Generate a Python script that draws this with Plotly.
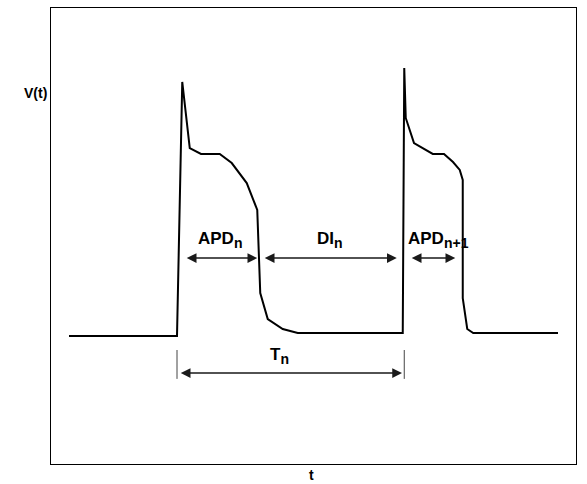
import plotly.graph_objects as go

# Membrane potential trace: two consecutive action potentials (t in ms, V in mV)
t_ms = [24, 168, 175, 185, 200, 225, 241, 261, 275, 279, 289, 309, 329,
        469, 471, 473, 484, 509, 524, 536, 545, 549, 549, 555, 563, 676]
v_mv = [-89.5, -89.5, 10.8, -15.3, -17.6, -17.6, -21.2, -29.1, -39.7, -72.5, -82.8, -86.7, -88.3,
        -88.3, 16.3, -3.4, -13.3, -17.6, -17.6, -20.8, -23.9, -27.9, -74.5, -86.7, -88.3, -88.3]

# Interval markers: (label, start, end, level)
interval_names = ["APD", "DI", "APD"]
interval_subs = ["n", "n", "n+1"]
interval_start = [179, 283, 479]
interval_end = [275, 461, 539]
interval_label_x = [225, 372, 516]
interval_level = -58.7
interval_label_level = -51.4

period_name = "T"
period_sub = "n"
period_start = 168
period_end = 471
period_level = -104.1
period_label_x = 304
period_label_level = -97.4
period_tick_low = -106.4
period_tick_high = -95.0

FONT = dict(family="Liberation Sans, Arial, sans-serif", size=17, color="black")
AXIS_FONT = dict(family="Liberation Sans, Arial, sans-serif", size=14, color="black")
SUB_PX = 14
ARROW_COLOR = "#1a1a1a"


def label(name, sub):
    return "<b>%s<sub><span style='font-size:%dpx'>%s</span></sub></b>" % (name, SUB_PX, sub)


fig = go.Figure()
fig.add_trace(go.Scatter(x=t_ms, y=v_mv, mode="lines",
                         line=dict(color="black", width=2), hoverinfo="skip"))

annotations = []


def double_arrow(x0, x1, y):
    annotations.append(dict(
        x=x1, y=y, ax=x0, ay=y, xref="x", yref="y", axref="x", ayref="y",
        text="", showarrow=True, arrowside="end+start",
        arrowhead=2, startarrowhead=2, arrowsize=1.3, startarrowsize=1.3,
        arrowwidth=1.5, arrowcolor=ARROW_COLOR, standoff=0, startstandoff=0))


for name, sub, x0, x1, lx in zip(interval_names, interval_subs, interval_start,
                                 interval_end, interval_label_x):
    double_arrow(x0, x1, interval_level)
    annotations.append(dict(x=lx, y=interval_label_level, xref="x", yref="y",
                            text=label(name, sub), showarrow=False, font=FONT,
                            xanchor="center", yanchor="middle"))

double_arrow(period_start + 3, period_end - 3, period_level)
annotations.append(dict(x=period_label_x, y=period_label_level, xref="x", yref="y",
                        text=label(period_name, period_sub), showarrow=False, font=FONT,
                        xanchor="center", yanchor="middle"))

for tx in (period_start, period_end):
    fig.add_shape(type="line", x0=tx, x1=tx, y0=period_tick_low, y1=period_tick_high,
                  xref="x", yref="y", line=dict(color="#444444", width=1))

# Axis names
annotations.append(dict(x=-0.029, y=0.814, xref="paper", yref="paper", text="<b>V(t)</b>",
                        showarrow=False, font=AXIS_FONT, xanchor="center", yanchor="middle"))
annotations.append(dict(x=0.497, y=-0.024, xref="paper", yref="paper", text="<b>t</b>",
                        showarrow=False, font=AXIS_FONT, xanchor="center", yanchor="middle"))

axis_style = dict(showgrid=False, zeroline=False, showticklabels=False, ticks="",
                  showline=True, linecolor="black", linewidth=1, mirror=True)

fig.update_layout(
    width=587, height=484,
    margin=dict(l=51, r=11, t=8, b=20),
    paper_bgcolor="white", plot_bgcolor="white",
    showlegend=False,
    xaxis=dict(range=[0, 700], **axis_style),
    yaxis=dict(range=[-140, 40], **axis_style),
    annotations=annotations,
)

fig.write_html("out.html")
